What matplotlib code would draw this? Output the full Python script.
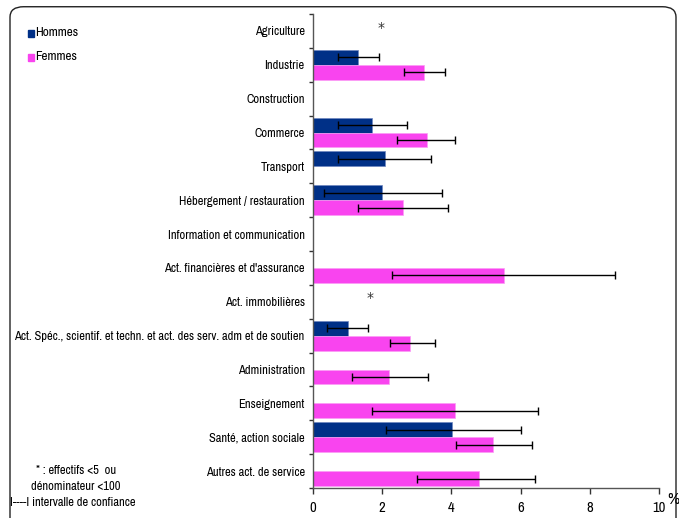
"""Recreate the Hommes / Femmes horizontal bar chart by activity sector."""

import matplotlib

matplotlib.use("Agg")
import matplotlib.pyplot as plt
import numpy as np
from matplotlib.patches import FancyBboxPatch

# --- data ---------------------------------------------------------------
sectors = [
    "Agriculture",
    "Industrie",
    "Construction",
    "Commerce",
    "Transport",
    "Hébergement / restauration",
    "Information et communication",
    "Act. financières et d'assurance",
    "Act. immobilières",
    "Act. Spéc., scientif. et techn. et act. des serv. adm et de soutien",
    "Administration",
    "Enseignement",
    "Santé, action sociale",
    "Autres act. de service",
]
nan = np.nan
hommes = [nan, 1.30, nan, 1.70, 2.09, 1.98, nan, nan, nan, 1.00, nan, nan, 4.01, nan]
hommes_lo = [nan, 0.71, nan, 0.71, 0.71, 0.33, nan, nan, nan, 0.41, nan, nan, 2.11, nan]
hommes_hi = [nan, 1.91, nan, 2.73, 3.42, 3.72, nan, nan, nan, 1.60, nan, nan, 6.01, nan]
femmes = [nan, 3.20, nan, 3.30, nan, 2.61, nan, 5.51, nan, 2.81, 2.19, 4.09, 5.19, 4.80]
femmes_lo = [nan, 2.63, nan, 2.42, nan, 1.31, nan, 2.29, nan, 2.22, 1.12, 1.71, 4.12, 3.01]
femmes_hi = [nan, 3.82, nan, 4.11, nan, 3.91, nan, 8.72, nan, 3.52, 3.32, 6.51, 6.32, 6.43]
# sectors flagged with "*" (small counts) and where the star sits
star_sectors = ["Agriculture", "Act. immobilières"]
star_x = [1.98, 1.66]

x_ticks = [0, 2, 4, 6, 8, 10]

BLUE = "#003087"
PINK = "#F944EF"
FONT = ["Liberation Sans Narrow", "Arial Narrow", "Archivo Narrow",
        "PT Sans Narrow", "Roboto Condensed", "Liberation Sans", "DejaVu Sans"]

plt.rcParams["font.family"] = FONT
plt.rcParams["font.size"] = 9

fig = plt.figure(figsize=(6.79, 5.18), dpi=100)
ax = fig.add_axes([313 / 679, 30 / 518, 346 / 679, 474 / 518])

y = np.arange(len(sectors))
h = np.array(hommes)
f = np.array(femmes)
bar_h = 0.44

ax.barh(y - bar_h / 2, h, height=bar_h, color=BLUE, edgecolor="#6f86c0",
        linewidth=0.5, label="Hommes")
ax.barh(y + bar_h / 2, f, height=bar_h, color=PINK, edgecolor="#fb9cf5",
        linewidth=0.5, label="Femmes")

err_kw = dict(fmt="none", ecolor="black", elinewidth=1.0, capsize=2.6,
              capthick=1.0)
ax.errorbar(h, y - bar_h / 2,
            xerr=[h - np.array(hommes_lo), np.array(hommes_hi) - h], **err_kw)
ax.errorbar(f, y + bar_h / 2,
            xerr=[f - np.array(femmes_lo), np.array(femmes_hi) - f], **err_kw)

for name, sx in zip(star_sectors, star_x):
    ax.text(sx, sectors.index(name) - 0.1, "*", ha="center", va="center",
            fontsize=10, color="#333333", family="DejaVu Sans")

ax.set_xlim(0, 10)
ax.set_ylim(len(sectors) - 0.5, -0.5)
ax.set_xticks(x_ticks)
ax.set_xticklabels([str(t) for t in x_ticks], fontsize=10.5)
ax.set_yticks(y)
ax.set_yticklabels(sectors)
ax.set_yticks(np.arange(len(sectors) + 1) - 0.5, minor=True)
ax.tick_params(axis="y", which="major", length=0, pad=6)
ax.tick_params(axis="y", which="minor", length=3, width=1, color="#333333")
ax.tick_params(axis="x", length=4, width=1, color="#333333", pad=5)
for side in ("top", "right"):
    ax.spines[side].set_visible(False)
for side in ("left", "bottom"):
    ax.spines[side].set_color("#555555")
    ax.spines[side].set_linewidth(1.0)

fig.text(673 / 679, 1 - 499 / 518, "%", ha="center", va="center", fontsize=12)

# legend drawn by hand at top-left
for label, color, ly in (("Hommes", BLUE, 33), ("Femmes", PINK, 57)):
    fig.patches.append(plt.Rectangle((28 / 679, 1 - (ly + 3.5) / 518),
                                     6 / 679, 7 / 518, color=color,
                                     transform=fig.transFigure))
    fig.text(35 / 679, 1 - ly / 518, label, ha="left", va="center", fontsize=9.5)

# footnote
fig.text(76 / 679, 1 - 470 / 518, "* : effectifs <5  ou", ha="center",
         va="center")
fig.text(76 / 679, 1 - 487 / 518, "dénominateur <100", ha="center",
         va="center")
fig.text(10 / 679, 1 - 503 / 518, "I----I intervalle de confiance", ha="left",
         va="center")

# rounded frame around the chart
frame = FancyBboxPatch((10 / 679, -0.05), 666 / 679, 1.037,
                       boxstyle="round,pad=0,rounding_size=0.02",
                       transform=fig.transFigure, fill=False,
                       edgecolor="#222222", linewidth=1.0)
fig.patches.append(frame)

fig.savefig("out.png", dpi=100)
plt.close(fig)
